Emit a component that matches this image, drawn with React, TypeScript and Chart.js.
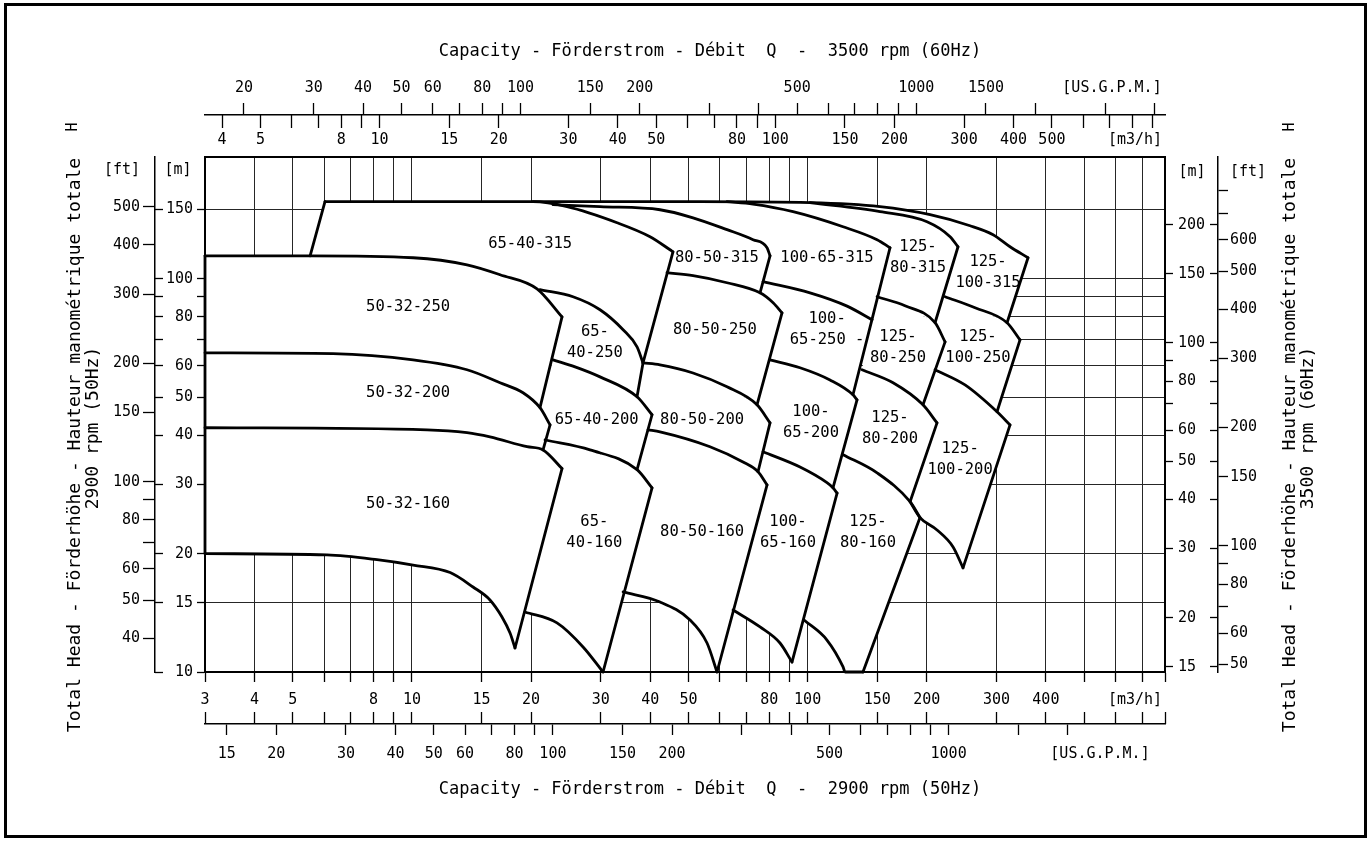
import React, { useEffect, useRef } from "react";
import { Chart, registerables } from "chart.js";

Chart.register(...registerables);

const FONT_FAMILY = "'DejaVu Sans Mono', 'Liberation Mono', monospace";

// ---------- axis ranges (base: 2900 rpm / 50 Hz, m3/h and m) ----------
const Q_MIN = 3;
const Q_MAX = 800;
const H_MIN = 10;
const H_MAX = 204;
const GPM_PER_M3H = 4.40287;
const FT_PER_M = 3.28084;
const SPEED_RATIO = 3500 / 2900;

// ---------- tick values / labels ----------
const Q50_TICKS = [3, 4, 5, 6, 7, 8, 9, 10, 15, 20, 30, 40, 50, 60, 70, 80, 90, 100, 150, 200, 300, 400, 500, 600, 700, 800];
const Q50_LABELS = [3, 4, 5, 8, 10, 15, 20, 30, 40, 50, 80, 100, 150, 200, 300, 400];
const GPM50_TICKS = [15, 20, 30, 40, 50, 60, 70, 80, 90, 100, 150, 200, 300, 400, 500, 600, 700, 800, 900, 1000, 1500, 2000];
const GPM50_LABELS = [15, 20, 30, 40, 50, 60, 80, 100, 150, 200, 500, 1000];
const Q60_TICKS = [4, 5, 6, 7, 8, 9, 10, 15, 20, 30, 40, 50, 60, 70, 80, 90, 100, 150, 200, 300, 400, 500, 600, 700, 800, 900];
const Q60_LABELS = [4, 5, 8, 10, 15, 20, 30, 40, 50, 80, 100, 150, 200, 300, 400, 500];
const GPM60_TICKS = [20, 30, 40, 50, 60, 70, 80, 90, 100, 150, 200, 300, 400, 500, 600, 700, 800, 900, 1000, 1500, 2000, 3000, 4000];
const GPM60_LABELS = [20, 30, 40, 50, 60, 80, 100, 150, 200, 500, 1000, 1500];
const H50_TICKS = [10, 15, 20, 30, 40, 50, 60, 70, 80, 90, 100, 150];
const H50_LABELS = [10, 15, 20, 30, 40, 50, 60, 80, 100, 150];
const FT50_TICKS = [40, 50, 60, 70, 80, 90, 100, 150, 200, 300, 400, 500];
const FT50_LABELS = [40, 50, 60, 80, 100, 150, 200, 300, 400, 500];
const H60_TICKS = [15, 20, 30, 40, 50, 60, 70, 80, 90, 100, 150, 200];
const H60_LABELS = [15, 20, 30, 40, 50, 60, 80, 100, 150, 200];
const FT60_TICKS = [50, 60, 70, 80, 90, 100, 150, 200, 300, 400, 500, 600, 700, 800];
const FT60_LABELS = [50, 60, 80, 100, 150, 200, 300, 400, 500, 600];

// ---------- texts ----------
const TITLE_TOP = "Capacity - Förderstrom - Débit  Q  -  3500 rpm (60Hz)";
const TITLE_BOTTOM = "Capacity - Förderstrom - Débit  Q  -  2900 rpm (50Hz)";
const HEAD_TITLE = "Total Head - Förderhöhe - Hauteur manométrique totale";
const HEAD_50 = "2900 rpm (50Hz)";
const HEAD_60 = "3500 rpm (60Hz)";

// ---------- pump range curves: [Q m3/h, H m] at 2900 rpm ----------
// 50-32
const T_50_250 = [[3, 114.4], [5.53, 114.4], [10.07, 113.1], [13.78, 108.5], [16.7, 102.4], [20.71, 94.3], [23.95, 80.0]];
const T_50_200 = [[3, 64.8], [6.32, 64.5], [10.07, 62.2], [13.78, 58.7], [16.7, 54.4], [19.09, 51.3], [21.07, 47.0], [22.34, 42.5]];
const T_50_160 = [[3, 41.8], [10.92, 41.3], [13.78, 40.6], [15.75, 39.6], [19.54, 37.4], [21.45, 36.7], [23.95, 32.9]];
const B_50_160 = [[3, 20.0], [6.1, 19.85], [8.16, 19.3], [10.07, 18.7], [12.49, 17.9], [14.27, 16.45], [15.75, 15.25], [16.89, 13.8], [17.7, 12.56], [18.22, 11.51]];
// 65-40
const T_65_315 = [[6.03, 157.0], [10.07, 157.0], [20.23, 157.0], [24.66, 152.5], [33.0, 138.8], [39.97, 127.9], [44.9, 118.5], [45.68, 117.1]];
const T_65_250 = [[21.07, 93.8], [25.53, 90.0], [29.88, 83.4], [34.17, 74.2], [37.06, 67.1], [38.37, 61.1]];
const T_65_200 = [[22.73, 62.2], [25.84, 59.7], [29.88, 56.3], [37.06, 50.1], [40.44, 45.1]];
const T_65_160 = [[21.7, 38.9], [28.19, 36.7], [37.06, 32.7], [40.44, 29.4]];
const B_65_160 = [[19.31, 14.21], [23.26, 13.33], [27.07, 11.58], [30.41, 10.0]];
// 80-50
const T_80_315 = [[22.73, 154.3], [29.88, 152.5], [42.36, 149.8], [51.34, 142.9], [62.56, 133.3], [72.78, 125.7], [78.97, 119.9], [80.35, 114.4]];
const T_80_250 = [[44.12, 103.6], [51.34, 101.8], [62.56, 97.7], [75.81, 92.1], [81.8, 86.9], [86.15, 81.9]];
const T_80_200 = [[38.37, 61.1], [42.36, 60.4], [51.34, 57.6], [62.56, 53.1], [74.49, 47.8], [80.35, 43.0]];
const T_80_160 = [[39.51, 41.3], [42.36, 40.8], [56.66, 37.4], [68.66, 34.2], [74.93, 32.3], [78.97, 29.9]];
const B_80_160 = [[34.17, 15.98], [42.36, 15.07], [50.45, 13.56], [55.69, 11.85], [59.02, 10.0]];
// 100-65
const T_100_315 = [[62.56, 157.0], [72.78, 154.8], [91.86, 148.1], [122.9, 135.6], [149.8, 125.7], [161.5, 119.9]];
const T_100_250 = [[77.15, 98.3], [101.4, 92.1], [125.8, 85.2], [145.4, 78.7]];
const T_100_200 = [[80.35, 62.2], [95.67, 59.4], [113.9, 55.3], [130.2, 50.7], [133.3, 49.2]];
const T_100_160 = [[77.15, 36.3], [95.67, 33.2], [111.9, 30.3], [115.9, 29.4], [118.7, 28.5]];
const B_100_160 = [[64.79, 14.38], [75.81, 13.02], [85.14, 11.85], [91.3, 10.6]];
// 125-80
const T_125_80_315 = [[101.4, 156.1], [152.4, 148.1], [200.3, 139.6], [229.1, 127.9], [239.9, 120.6]];
const T_125_80_250 = [[149.8, 90.0], [176.2, 85.4], [209.9, 77.3], [222.5, 69.1]];
const T_125_80_200 = [[137.2, 58.7], [164.4, 54.4], [195.7, 47.8], [212.3, 43.0]];
const T_125_80_160 = [[122.9, 35.7], [149.8, 32.1], [181.5, 27.1], [192.3, 24.7]];
const B_125_80_160 = [[97.93, 13.56], [111.9, 12.06], [122.9, 10.3], [124.3, 10.0], [138.0, 10.0]];
// 125-100 (top envelope of the whole field)
const ENVELOPE = [[20.23, 157.0], [53.47, 157.0], [101.4, 156.1], [152.4, 152.5], [203.9, 145.5], [257.3, 136.4], [294.2, 129.4], [324.7, 120.6], [360.5, 113.1]];
const T_125_100_250 = [[222.5, 90.0], [264.9, 84.4], [319.1, 77.3], [344.1, 69.9]];
const T_125_100_200 = [[209.9, 58.7], [249.9, 53.7], [301.0, 45.9], [324.7, 42.5]];
const B_125_100_200 = [[181.5, 27.1], [192.3, 24.7], [212.3, 22.97], [233.1, 20.8], [247.0, 18.4]];
const LEFT_EDGE = [[3, 114.4], [3, 20.0]];
const EDGE_65_315 = [[5.53, 114.4], [6.03, 157.0]];

// ---------- tiles ----------
const TILES: any[] = [
  { name: ["50-32-250"], at: [9.78, 84.9], top: T_50_250, end: [21.07, 47.0], lower: T_50_200, left: [] },
  { name: ["50-32-200"], at: [9.78, 51.3], top: T_50_200, end: [21.45, 36.7], lower: T_50_160, left: [] },
  { name: ["50-32-160"], at: [9.78, 26.8], top: T_50_160, end: [18.22, 11.51], lower: B_50_160, left: [] },
  { name: ["65-40-315"], at: [19.9, 122.7], edge: EDGE_65_315, top: T_65_315, end: [38.37, 61.1], lower: T_65_250, left: [[20.71, 94.3], [16.7, 102.4], [13.78, 108.5], [10.07, 113.1], [5.53, 114.4]] },
  { name: ["65-", "40-250"], at: [29.0, 68.7], top: T_65_250, end: [37.06, 50.1], lower: T_65_200, left: [[23.95, 80.0]] },
  { name: ["65-40-200"], at: [29.3, 43.8], top: T_65_200, end: [37.06, 32.7], lower: T_65_160, left: [[22.34, 42.5], [21.07, 47.0]] },
  { name: ["65-", "40-160"], at: [28.9, 22.6], top: T_65_160, end: [30.41, 10.0], lower: B_65_160, left: [[23.95, 32.9], [21.45, 36.7]] },
  { name: ["80-50-315"], at: [59.0, 113.1], top: T_80_315, end: [75.81, 92.1], lower: T_80_250, left: [[45.68, 117.1], [44.9, 118.5], [39.97, 127.9], [33.0, 138.8], [24.66, 152.5]] },
  { name: ["80-50-250"], at: [58.3, 74.2], top: T_80_250, end: [74.49, 47.8], lower: T_80_200, left: [] },
  { name: ["80-50-200"], at: [54.1, 43.8], top: T_80_200, end: [74.93, 32.3], lower: T_80_160, left: [[40.44, 45.1], [37.06, 50.1]] },
  { name: ["80-50-160"], at: [54.1, 22.7], top: T_80_160, end: [59.02, 10.0], lower: B_80_160, left: [[40.44, 29.4], [37.06, 32.7]] },
  { name: ["100-65-315"], at: [111.9, 113.1], top: T_100_315, end: [145.4, 78.7], lower: T_100_250, left: [[80.35, 114.4], [78.97, 119.9], [72.78, 125.7], [62.56, 133.3], [51.34, 142.9], [42.36, 149.8], [29.88, 152.5], [22.73, 154.3], [20.23, 157.0]] },
  { name: ["100-", "65-250 -"], at: [112.0, 74.2], top: T_100_250, end: [130.2, 50.7], lower: T_100_200, left: [[86.15, 81.9], [75.81, 92.1]] },
  { name: ["100-", "65-200"], at: [102.0, 43.0], top: T_100_200, end: [115.9, 29.4], lower: T_100_160, left: [[80.35, 43.0], [74.49, 47.8]] },
  { name: ["100-", "65-160"], at: [89.2, 22.6], top: T_100_160, end: [91.3, 10.6], lower: B_100_160, left: [[78.97, 29.9], [74.93, 32.3]] },
  { name: ["125-", "80-315"], at: [190.1, 113.1], top: T_125_80_315, end: [209.9, 77.3], lower: T_125_80_250, left: [[161.5, 119.9], [149.8, 125.7], [122.9, 135.6], [91.86, 148.1], [72.78, 154.8], [62.56, 157.0]] },
  { name: ["125-", "80-250"], at: [169.2, 66.7], top: T_125_80_250, end: [195.7, 47.8], lower: T_125_80_200, left: [[145.4, 78.7]] },
  { name: ["125-", "80-200"], at: [161.5, 41.5], top: T_125_80_200, end: [181.5, 27.1], lower: T_125_80_160, left: [[133.3, 49.2], [130.2, 50.7]] },
  { name: ["125-", "80-160"], at: [142.1, 22.6], top: T_125_80_160, end: [138.0, 10.0], lower: B_125_80_160, left: [[118.7, 28.5], [115.9, 29.4]] },
  { name: ["125-", "100-315"], at: [285.7, 103.6], strokeTop: ENVELOPE, top: ENVELOPE.slice(2), end: [319.1, 77.3], lower: T_125_100_250, left: [[239.9, 120.6], [229.1, 127.9], [200.3, 139.6], [152.4, 148.1]] },
  { name: ["125-", "100-250"], at: [269.5, 66.7], top: T_125_100_250, end: [301.0, 45.9], lower: T_125_100_200, left: [[222.5, 69.1], [209.9, 77.3]] },
  { name: ["125-", "100-200"], at: [242.8, 34.8], top: T_125_100_200, end: [247.0, 18.4], lower: B_125_100_200, left: [[212.3, 43.0], [195.7, 47.8]] },
];
const BOTTOM_CURVES = [B_50_160, B_65_160, B_80_160, B_100_160, B_125_80_160, B_125_100_200];

const toXY = (pts: number[][]) => pts.map(([x, y]) => ({ x, y }));

function strokeSet(pts: number[][], smooth: boolean) {
  return {
    data: toXY(pts),
    showLine: true,
    fill: false,
    borderColor: "#000",
    borderWidth: 2.8,
    borderJoinStyle: "miter",
    borderCapStyle: "round",
    pointRadius: 0,
    tension: 0,
    cubicInterpolationMode: smooth ? "monotone" : "default",
    order: 1,
    clip: false,
  };
}

function buildDatasets() {
  const fills = TILES.map((t) => {
    const lowerPart = t.lower.filter((p: number[]) => p[0] < t.end[0]).slice().reverse();
    const poly = [...t.top, t.end, ...lowerPart, ...t.left];
    return {
      data: toXY(poly),
      showLine: true,
      fill: "shape",
      backgroundColor: "#ffffff",
      borderColor: "rgba(0,0,0,0)",
      borderWidth: 0,
      pointRadius: 0,
      tension: 0,
      order: 2,
      clip: false,
    };
  });
  const strokes: any[] = [];
  for (const t of TILES) {
    strokes.push(strokeSet(t.strokeTop || t.top, true));
    strokes.push(strokeSet([t.top[t.top.length - 1], t.end], false));
    if (t.edge) strokes.push(strokeSet(t.edge, false));
  }
  for (const b of BOTTOM_CURVES) strokes.push(strokeSet(b, true));
  strokes.push(strokeSet(LEFT_EDGE, false));
  return [...fills, ...strokes];
}

const tickFont = { family: FONT_FAMILY, size: 15 };

function logAxis(axisName: string, position: string, weight: number, min: number, max: number,
  ticks: number[], labels: number[] | null, size: number, o: any) {
  const horizontal = position === "top" || position === "bottom";
  return {
    type: "logarithmic",
    axis: axisName,
    position,
    weight,
    min,
    max,
    afterBuildTicks: (s: any) => {
      s.ticks = ticks.map((v) => ({ value: v }));
    },
    afterFit: (s: any) => {
      if (horizontal) s.height = size;
      else s.width = size;
    },
    grid: {
      display: true,
      drawOnChartArea: !!o.chartGrid,
      drawTicks: (o.tickLength || 0) > 0,
      tickLength: o.tickLength || 0,
      color: "#262626",
      lineWidth: 1,
      tickColor: "#000",
      tickWidth: 1.3,
    },
    border: { display: !!o.border, color: "#000", width: o.border || 1, z: 1 },
    ticks: {
      display: !!labels,
      autoSkip: false,
      maxRotation: 0,
      minRotation: 0,
      padding: o.padding || 0,
      color: "#000",
      font: tickFont,
      callback: (v: number) => (labels && labels.includes(v) ? String(v) : ""),
    },
  };
}

const textPlugin = {
  id: "pumpTexts",
  afterDatasetsDraw(chart: any) {
    const { ctx } = chart;
    const xs = chart.scales.x;
    const ys = chart.scales.y;
    ctx.save();
    ctx.fillStyle = "#000";
    ctx.font = `15.5px ${FONT_FAMILY}`;
    ctx.textAlign = "center";
    ctx.textBaseline = "middle";
    for (const t of TILES) {
      const px = xs.getPixelForValue(t.at[0]);
      const py = ys.getPixelForValue(t.at[1]);
      const n = t.name.length;
      t.name.forEach((s: string, i: number) => ctx.fillText(s, px, py + (i - (n - 1) / 2) * 21));
    }
    ctx.restore();
  },
  afterDraw(chart: any) {
    const { ctx } = chart;
    ctx.save();
    ctx.fillStyle = "#000";
    ctx.textAlign = "center";
    ctx.textBaseline = "middle";
    ctx.font = `17px ${FONT_FAMILY}`;
    ctx.fillText(TITLE_TOP, 710, 52);
    ctx.fillText(TITLE_BOTTOM, 710, 790);
    const vtext = (s: string, x: number, y: number) => {
      ctx.save();
      ctx.translate(x, y);
      ctx.rotate(-Math.PI / 2);
      ctx.fillText(s, 0, 0);
      ctx.restore();
    };
    ctx.font = `18px ${FONT_FAMILY}`;
    vtext(HEAD_TITLE, 75, 445);
    vtext(HEAD_50, 93, 428);
    vtext(HEAD_TITLE, 1290, 445);
    vtext(HEAD_60, 1308, 428);
    ctx.font = `15px ${FONT_FAMILY}`;
    vtext("H", 73, 127);
    vtext("H", 1290, 127);
    ctx.fillText("[US.G.P.M.]", 1112, 88);
    ctx.fillText("[m3/h]", 1135, 140);
    ctx.fillText("[m3/h]", 1135, 700);
    ctx.fillText("[US.G.P.M.]", 1100, 754);
    ctx.fillText("[ft]", 122, 170);
    ctx.fillText("[m]", 178, 170);
    ctx.fillText("[m]", 1192, 172);
    ctx.fillText("[ft]", 1248, 172);
    ctx.strokeStyle = "#000";
    ctx.lineWidth = 3;
    ctx.strokeRect(5.5, 4.5, 1360, 832);
    ctx.restore();
  },
};

export default function App() {
  const ref = useRef<HTMLCanvasElement | null>(null);
  useEffect(() => {
    const canvas = ref.current;
    if (!canvas) return;
    const SR2 = SPEED_RATIO * SPEED_RATIO;
    const chart = new Chart(canvas, {
      type: "scatter",
      data: { datasets: buildDatasets() as any },
      options: {
        responsive: false,
        animation: false,
        devicePixelRatio: 1,
        events: [],
        layout: { padding: { left: 100, right: 102, top: 79, bottom: 80 } },
        plugins: { legend: { display: false }, tooltip: { enabled: false } },
        scales: {
          x: logAxis("x", "bottom", 0, Q_MIN, Q_MAX, Q50_TICKS, Q50_LABELS, 40, { chartGrid: true, tickLength: 10, padding: 9, border: 2 }),
          x6: logAxis("x", "bottom", 1, Q_MIN, Q_MAX, Q50_TICKS, null, 12, { tickLength: 12 }),
          x2: logAxis("x", "bottom", 2, Q_MIN * GPM_PER_M3H, Q_MAX * GPM_PER_M3H, GPM50_TICKS, GPM50_LABELS, 39, { tickLength: 11, padding: 10, border: 1.5 }),
          x3: logAxis("x", "top", 0, Q_MIN * SPEED_RATIO, Q_MAX * SPEED_RATIO, Q60_TICKS, Q60_LABELS, 29, { tickLength: 0, padding: 8, border: 2 }),
          x5: logAxis("x", "top", 1, Q_MIN * SPEED_RATIO, Q_MAX * SPEED_RATIO, Q60_TICKS, null, 13, { tickLength: 13 }),
          x4: logAxis("x", "top", 2, Q_MIN * SPEED_RATIO * GPM_PER_M3H, Q_MAX * SPEED_RATIO * GPM_PER_M3H, GPM60_TICKS, GPM60_LABELS, 36, { tickLength: 12, padding: 6, border: 1.5 }),
          y: logAxis("y", "left", 0, H_MIN, H_MAX, H50_TICKS, H50_LABELS, 42, { chartGrid: true, tickLength: 8, padding: 4, border: 2 }),
          ym2: logAxis("y", "left", 1, H_MIN, H_MAX, H50_TICKS, null, 8, { tickLength: 8 }),
          y2: logAxis("y", "left", 2, H_MIN * FT_PER_M, H_MAX * FT_PER_M, FT50_TICKS, FT50_LABELS, 55, { tickLength: 12, padding: 3, border: 1.5 }),
          y3: logAxis("y", "right", 0, H_MIN * SR2, H_MAX * SR2, H60_TICKS, H60_LABELS, 45, { tickLength: 8, padding: 5, border: 2 }),
          ym3: logAxis("y", "right", 1, H_MIN * SR2, H_MAX * SR2, H60_TICKS, null, 8, { tickLength: 8 }),
          y4: logAxis("y", "right", 2, H_MIN * SR2 * FT_PER_M, H_MAX * SR2 * FT_PER_M, FT60_TICKS, FT60_LABELS, 52, { tickLength: 10, padding: 2, border: 1.5 }),
        } as any,
      },
      plugins: [textPlugin as any],
    } as any);
    return () => chart.destroy();
  }, []);
  return (
    <div style={{ position: "fixed", left: 0, top: 0, width: 1372, height: 843, background: "#fff" }}>
      <canvas ref={ref} width={1372} height={843} style={{ display: "block", width: 1372, height: 843 }} />
    </div>
  );
}
